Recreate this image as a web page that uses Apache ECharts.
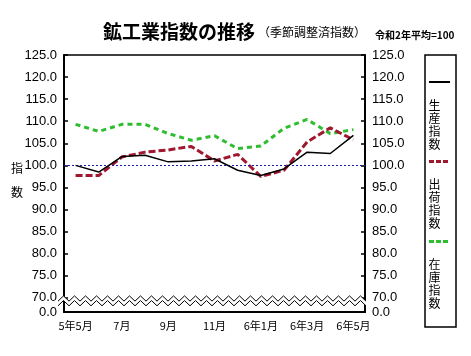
<!DOCTYPE html>
<html><head><meta charset="utf-8">
<script src="https://cdn.jsdelivr.net/npm/echarts@6/dist/echarts.min.js"></script>
<style>html,body{margin:0;padding:0;background:#fff}#c{width:471px;height:356px}</style>
</head><body><div id="c"></div>
<script>
// ---- data ----
const categories = ['5年5月','6月','7月','8月','9月','10月','11月','12月','6年1月','2月','6年3月','4月','6年5月'];
const seriesNames = ['生産指数','出荷指数','在庫指数'];
const production = [100.0, 98.5, 102.0, 102.3, 100.8, 101.0, 101.5, 98.9, 97.7, 99.2, 103.0, 102.7, 106.8];
const shipments  = [97.7, 97.7, 101.9, 103.0, 103.5, 104.3, 101.0, 102.5, 97.5, 98.9, 105.3, 108.5, 105.8];
const inventory  = [109.3, 107.7, 109.3, 109.3, 107.2, 105.7, 106.7, 103.8, 104.4, 108.4, 110.4, 107.2, 108.1];
const yTickValues = [66.8, 70, 75, 80, 85, 90, 95, 100, 105, 110, 115, 120, 125];
const yTickLabels = ['0.0','70.0','75.0','80.0','85.0','90.0','95.0','100.0','105.0','110.0','115.0','120.0','125.0'];
const baseLine = 100;
const titleMain = '鉱工業指数の推移';
const titleSub = '（季節調整済指数）';
const titleNote = '令和2年平均=100';
const yName = ['指','数'];

const colors = ['#000000','#a0182e','#2ebd2e'];
const cjk = '"Noto Sans CJK JP", sans-serif';
const narrow = '"Liberation Sans Narrow", "Arial Narrow", "Liberation Sans", Arial, sans-serif';

const chart = echarts.init(document.getElementById('c'));
const G = {left:64, right:106, top:55, bottom:44};

function yFmt(v){
  const i = yTickValues.findIndex(t => Math.abs(t - v) < 1e-6);
  return i >= 0 ? yTickLabels[i] : '';
}
function yAxisDef(pos){
  return {
    type:'value', position:pos, min:66.8, max:125,
    axisLine:{show:true, lineStyle:{color:'#000', width:2}},
    axisTick:{show:true, inside:true, length:4, customValues:yTickValues, lineStyle:{color:'#000', width:1.5}},
    axisLabel:{customValues:yTickValues, formatter:yFmt, color:'#000', fontFamily:narrow, fontSize:13, margin:7, showMinLabel:true, showMaxLabel:true},
    splitLine:{show:false}
  };
}

chart.setOption({
  animation:false,
  backgroundColor:'#fff',
  grid:{left:G.left, right:G.right, top:G.top, bottom:G.bottom, show:true, borderColor:'#000', borderWidth:1.5, backgroundColor:'transparent'},
  xAxis:{
    type:'category', data:categories, boundaryGap:true,
    axisLine:{lineStyle:{color:'#000', width:2}},
    axisTick:{alignWithLabel:true, inside:true, length:4, interval:0, lineStyle:{color:'#000', width:1.5}},
    axisLabel:{interval:1, color:'#000', fontFamily:cjk, fontSize:11, margin:8}
  },
  yAxis:[yAxisDef('left'), yAxisDef('right')],
  series:[
    {name:seriesNames[0], type:'line', data:production, yAxisIndex:0, symbol:'none', z:5,
     lineStyle:{color:colors[0], width:1.5},
     markLine:{silent:true, symbol:'none', label:{show:false},
       lineStyle:{color:'#1a1aa8', type:[2,2], width:1}, data:[{yAxis:baseLine}]}},
    {name:seriesNames[1], type:'line', data:shipments, yAxisIndex:0, symbol:'none', z:4,
     lineStyle:{color:colors[1], width:3, type:[7,3]}},
    {name:seriesNames[2], type:'line', data:inventory, yAxisIndex:0, symbol:'none', z:3,
     lineStyle:{color:colors[2], width:3, type:[5,4]}}
  ]
});

// ---- decorations: axis break zigzag, titles, legend ----
const W = 471;
const xL = G.left, xR = W - G.right;
const yUp = chart.convertToPixel({yAxisIndex:0}, 70.45);
const yLo = chart.convertToPixel({yAxisIndex:0}, 68.2);
const amp = (yLo - yUp) / 2 + 0.3;
function zig(yTop, x0, x1, step){
  const pts = [];
  let k = 0;
  for (let x = x0; x <= x1 + 0.01; x += step, k++) pts.push([x, k % 2 === 0 ? yTop + amp : yTop]);
  return pts;
}
const step = 5.5;
const up = zig(yUp, xL - 6, xR + 4, step);
const lo = zig(yUp + (yLo - yUp) - amp, xL - 6, xR + 4, step);
const poly = up.concat(lo.slice().reverse());

const legendX0 = 425, legendX1 = 456, legendTop = 55, legendBottom = 327;
const legendLineY = [82, 161.5, 241.5];
const legendTextY = [99, 178, 258];
const legendEls = [
  {type:'rect', shape:{x:legendX0, y:legendTop, width:legendX1-legendX0, height:legendBottom-legendTop},
   style:{fill:'#fff', stroke:'#000', lineWidth:1.5}, z:10}
];
seriesNames.forEach((n, i) => {
  legendEls.push({type:'line', shape:{x1:429, y1:legendLineY[i], x2:450, y2:legendLineY[i]},
    style:{stroke:colors[i], lineWidth: i === 0 ? 2 : 3, lineDash: i === 0 ? null : [5,2]}, z:11});
  legendEls.push({type:'text', x:434.5, y:legendTextY[i],
    style:{text:n.split('').join('\n'), font:'12px ' + cjk, fill:'#000', lineHeight:13,
      align:'center', textAlign:'center', verticalAlign:'top', textVerticalAlign:'top'}, z:11});
});

chart.setOption({
  graphic:[
    {type:'polygon', shape:{points:poly}, style:{fill:'#fff', stroke:null}, z:20},
    {type:'polyline', shape:{points:up}, style:{stroke:'#000', lineWidth:1, fill:null}, z:21},
    {type:'polyline', shape:{points:lo}, style:{stroke:'#000', lineWidth:1, fill:null}, z:21},
    {type:'text', x:103, y:32, style:{text:titleMain, font:'bold 19px ' + cjk, fill:'#000',
      align:'left', textAlign:'left', verticalAlign:'middle', textVerticalAlign:'middle'}},
    {type:'text', x:258, y:32, style:{text:titleSub, font:'12px ' + cjk, fill:'#000',
      align:'left', textAlign:'left', verticalAlign:'middle', textVerticalAlign:'middle'}},
    {type:'text', x:375, y:35, style:{text:titleNote, font:'bold 10px ' + cjk, fill:'#000',
      align:'left', textAlign:'left', verticalAlign:'middle', textVerticalAlign:'middle'}},
    {type:'text', x:17, y:168, style:{text:yName[0], font:'12px ' + cjk, fill:'#000',
      align:'center', textAlign:'center', verticalAlign:'middle', textVerticalAlign:'middle'}},
    {type:'text', x:17, y:192, style:{text:yName[1], font:'12px ' + cjk, fill:'#000',
      align:'center', textAlign:'center', verticalAlign:'middle', textVerticalAlign:'middle'}}
  ].concat(legendEls)
});
</script></body></html>
